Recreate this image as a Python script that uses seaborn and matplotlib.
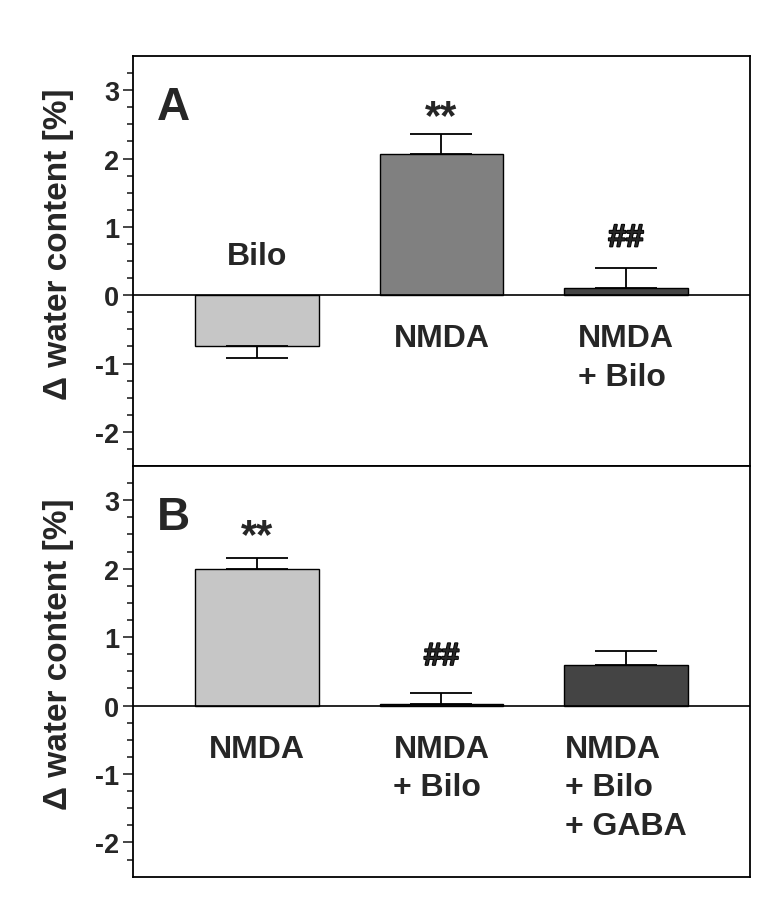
import numpy as np
import pandas as pd
import matplotlib
matplotlib.use("Agg")
import matplotlib.pyplot as plt
import matplotlib.patheffects as pe
import seaborn as sns

# panel A
a_groups = ["Bilo", "NMDA", "NMDA\n+ Bilo"]
a_values = [-0.74, 2.07, 0.11]
a_sem = [0.18, 0.29, 0.29]
a_colors = ["#c6c6c6", "#808080", "#444444"]
a_marks = ["", "**", "##"]

# panel B
b_groups = ["NMDA", "NMDA\n+ Bilo", "NMDA\n+ Bilo\n+ GABA"]
b_values = [2.0, 0.02, 0.59]
b_sem = [0.16, 0.16, 0.21]
b_colors = ["#c6c6c6", "#333333", "#444444"]
b_marks = ["**", "##", ""]

sns.set_style("white")
plt.rcParams["font.family"] = ["Liberation Sans", "DejaVu Sans"]
plt.rcParams["font.weight"] = "bold"
plt.rcParams["axes.unicode_minus"] = False

fig = plt.figure(figsize=(7.75, 9.04), dpi=100)
axA = fig.add_axes([0.1716, 0.4834, 0.7961, 0.4535])
axB = fig.add_axes([0.1716, 0.0291, 0.7961, 0.4543])


def draw_panel(ax, groups, values, sem, colors, marks, letter, mark_y):
    df = pd.DataFrame({"group": groups, "value": values})
    sns.barplot(data=df, x="group", y="value", hue="group", palette=colors,
                legend=False, errorbar=None, width=0.667, edgecolor="black",
                linewidth=1.0, saturation=1, ax=ax)
    x = np.arange(len(values))
    vals = np.array(values)
    err = np.array(sem)
    lower = np.where(vals < 0, err, 0)
    upper = np.where(vals >= 0, err, 0)
    ax.errorbar(x, vals, yerr=[lower, upper], fmt="none", ecolor="black",
                elinewidth=1.3, capsize=22, capthick=1.3)
    ax.axhline(0, color="black", lw=1.2, zorder=5)
    ax.set_xlim(-0.672, 2.672)
    ax.set_ylim(-2.5, 3.5)
    ax.set_xticks([])
    ax.set_xlabel("")
    ax.set_yticks([-2, -1, 0, 1, 2, 3])
    ax.set_yticks(np.arange(-2.25, 3.5, 0.25), minor=True)
    ax.tick_params(axis="y", which="major", direction="out", length=7, width=1.2,
                   labelsize=19.5, pad=3, left=True)
    ax.tick_params(axis="y", which="minor", direction="out", length=4, width=1.2,
                   left=True)
    for lab in ax.get_yticklabels():
        lab.set_fontweight("bold")
    for s in ax.spines.values():
        s.set_visible(True)
        s.set_color("black")
        s.set_linewidth(1.3)
    ax.set_ylabel("Δ water content [%]", fontsize=24, fontweight="bold")
    ax.yaxis.set_label_coords(-0.095, 0.544)

    # category labels inside the axes
    for i, (g, v) in enumerate(zip(groups, values)):
        if v < 0:
            ax.text(i, 0.57, g, ha="center", va="center", fontsize=23,
                    fontweight="bold")
        else:
            ax.text(i, -0.41, g, ha="center", va="top", fontsize=23,
                    fontweight="bold", multialignment="left", linespacing=1.38)
    for i, m in enumerate(marks):
        if m == "**":
            ax.text(i, mark_y[i], m, ha="center", va="center", fontsize=30,
                    fontweight="bold")
        elif m:
            ax.text(i, mark_y[i], m, ha="center", va="center", fontsize=23,
                    fontweight="bold",
                    path_effects=[pe.withStroke(linewidth=1.3, foreground="black")])
    ax.text(0.039, 0.875, letter, transform=ax.transAxes, ha="left",
            va="center", fontsize=33, fontweight="bold")


draw_panel(axA, a_groups, a_values, a_sem, a_colors, a_marks, "A",
           [0, 2.6, 0.83])
draw_panel(axB, b_groups, b_values, b_sem, b_colors, b_marks, "B",
           [2.47, 0.71, 0])

fig.savefig("out.png", dpi=100)
